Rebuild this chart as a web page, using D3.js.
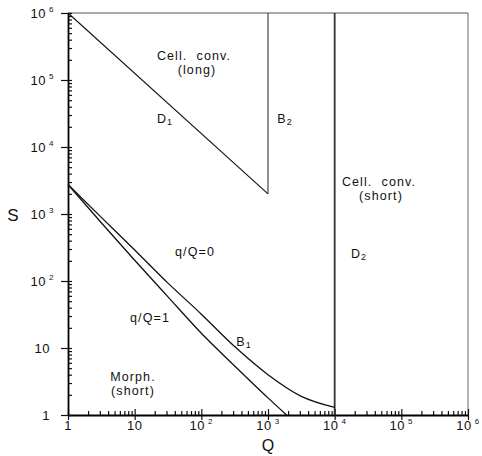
<!DOCTYPE html>
<html>
<head>
<meta charset="utf-8">
<script src="https://cdn.jsdelivr.net/npm/d3@7"></script>
<style>
  body { margin: 0; background: #fff; }
  text { font-family: "Liberation Sans", Arial, sans-serif; fill: #111; }
</style>
</head>
<body>
<div id="chart"></div>
<script>
// decade exponents used for tick labels on both axes
const qExponents = [0, 1, 2, 3, 4, 5, 6];
const sExponents = [0, 1, 2, 3, 4, 5, 6];

// B1 boundary, q/Q = 0
const b1Q = [1, 3.16, 10, 31.6, 100, 316, 1000, 3162, 10000];
const b1S = [2750, 890, 290, 93, 32, 10.5, 4.0, 1.9, 1.3];

// q/Q = 1 curve
const q1Q = [1, 3.16, 10, 31.6, 100, 316, 1000, 1900];
const q1S = [2750, 740, 204, 58, 16.6, 5.4, 1.8, 1.0];

// straight boundaries
const d1Q = [1, 1000];
const d1S = [1e6, 2000];
const b2Q = [1000, 1000];
const b2S = [2000, 1e6];
const d2Q = [1e4, 1e4];
const d2S = [1, 1e6];

window.onload = function () {
  const W = 482, H = 456;
  const margin = { top: 13, right: 14, bottom: 41, left: 68 };
  const width = W - margin.left - margin.right;
  const height = H - margin.top - margin.bottom;

  const svg = d3.select("#chart").append("svg")
    .attr("width", W).attr("height", H);
  const g = svg.append("g")
    .attr("transform", `translate(${margin.left},${margin.top})`);

  const x = d3.scaleLog().domain([1, 1e6]).range([0, width]);
  const y = d3.scaleLog().domain([1, 1e6]).range([height, 0]);

  const isDecade = (v) => Math.abs(Math.log10(v) - Math.round(Math.log10(v))) < 1e-9;
  const minorX = x.ticks().filter((v) => !isDecade(v));
  const minorY = y.ticks().filter((v) => !isDecade(v));
  const majorQ = qExponents.map((e) => Math.pow(10, e));
  const majorS = sExponents.map((e) => Math.pow(10, e));

  // frame: top and right thin
  g.append("line").attr("x1", 0).attr("x2", width).attr("y1", 0).attr("y2", 0)
    .attr("stroke", "#555").attr("stroke-width", 1);
  g.append("line").attr("x1", width).attr("x2", width).attr("y1", 0).attr("y2", height)
    .attr("stroke", "#666").attr("stroke-width", 1);

  // bottom axis
  const xAxis = g.append("g").attr("transform", `translate(0,${height})`);
  xAxis.append("g")
    .call(d3.axisTop(x).tickValues(minorX).tickSize(4).tickSizeOuter(0).tickFormat(""))
    .call((s) => s.select(".domain").remove());
  xAxis.append("g")
    .call(d3.axisBottom(x).tickValues(majorQ).tickSize(5).tickSizeOuter(0).tickFormat(""))
    .call((s) => s.selectAll(".tick line").attr("y1", -6));
  xAxis.selectAll("path.domain").attr("stroke-width", 1.8);
  xAxis.selectAll("line").attr("stroke", "#111").attr("stroke-width", 1.2);

  // left axis
  const yAxis = g.append("g");
  yAxis.append("g")
    .call(d3.axisRight(y).tickValues(minorY).tickSize(4).tickSizeOuter(0).tickFormat(""))
    .call((s) => s.select(".domain").remove());
  yAxis.append("g")
    .call(d3.axisLeft(y).tickValues(majorS).tickSize(7).tickSizeOuter(0).tickFormat(""))
    .call((s) => s.selectAll(".tick line").attr("x1", 4));
  yAxis.selectAll("path.domain").attr("stroke-width", 1.8);
  yAxis.selectAll("line").attr("stroke", "#111").attr("stroke-width", 1.2);

  // tick labels with superscript exponents
  function powLabel(sel, e) {
    if (e === 0) { sel.text("1"); return; }
    sel.append("tspan").text("10");
    if (e > 1) {
      sel.append("tspan").attr("font-size", 8).attr("dx", 3).attr("dy", -6).text(e);
    }
  }
  qExponents.forEach((e) => {
    const t = g.append("text")
      .attr("x", x(Math.pow(10, e)))
      .attr("y", height + 15)
      .attr("text-anchor", "middle")
      .attr("font-size", 13)
      .attr("letter-spacing", 0.5);
    powLabel(t, e);
  });
  sExponents.forEach((e) => {
    const t = g.append("text")
      .attr("x", e > 1 ? -14 : -18)
      .attr("y", y(Math.pow(10, e)) + 5)
      .attr("text-anchor", "end")
      .attr("font-size", 13)
      .attr("letter-spacing", 0.5);
    powLabel(t, e);
  });

  // axis titles
  g.append("text").attr("x", width / 2).attr("y", height + 36)
    .attr("text-anchor", "middle").attr("font-size", 16).text("Q");
  g.append("text").attr("x", -55).attr("y", height / 2 + 7)
    .attr("text-anchor", "middle").attr("font-size", 17).text("S");

  // boundaries
  const line = d3.line().x((d) => x(d[0])).y((d) => y(d[1]));
  const smooth = d3.line().x((d) => x(d[0])).y((d) => y(d[1])).curve(d3.curveMonotoneX);

  g.append("path").datum(d3.zip(d1Q, d1S)).attr("d", line)
    .attr("fill", "none").attr("stroke", "#111").attr("stroke-width", 1.1);
  g.append("path").datum(d3.zip(b2Q, b2S)).attr("d", line)
    .attr("fill", "none").attr("stroke", "#222").attr("stroke-width", 1);
  g.append("path").datum(d3.zip(d2Q, d2S)).attr("d", line)
    .attr("fill", "none").attr("stroke", "#333").attr("stroke-width", 1.8);
  g.append("path").datum(d3.zip(b1Q, b1S)).attr("d", smooth)
    .attr("fill", "none").attr("stroke", "#111").attr("stroke-width", 1.3);
  g.append("path").datum(d3.zip(q1Q, q1S)).attr("d", smooth)
    .attr("fill", "none").attr("stroke", "#111").attr("stroke-width", 1.3);

  // region and curve labels
  function label(px, py, parts) {
    const t = svg.append("text").attr("x", px).attr("y", py)
      .attr("text-anchor", "middle").attr("font-size", 12.5)
      .attr("letter-spacing", 1.1)
      .style("white-space", "pre");
    parts.forEach((p) => {
      const s = t.append("tspan").text(p[0]);
      if (p[1]) s.attr("font-size", 9).attr("dy", 2);
    });
    return t;
  }
  label(194, 60, [["Cell.  conv."]]);
  label(197, 74, [["(long)"]]);
  label(165, 123, [["D"], ["1", true]]);
  label(285, 123, [["B"], ["2", true]]);
  label(379, 186, [["Cell.  conv."]]);
  label(381, 200, [["(short)"]]);
  label(359, 258, [["D"], ["2", true]]);
  label(195, 256, [["q/Q=0"]]);
  label(150, 322, [["q/Q=1"]]);
  label(244, 346, [["B"], ["1", true]]);
  label(133, 381, [["Morph."]]);
  label(133, 395, [["(short)"]]);
};
</script>
</body>
</html>
